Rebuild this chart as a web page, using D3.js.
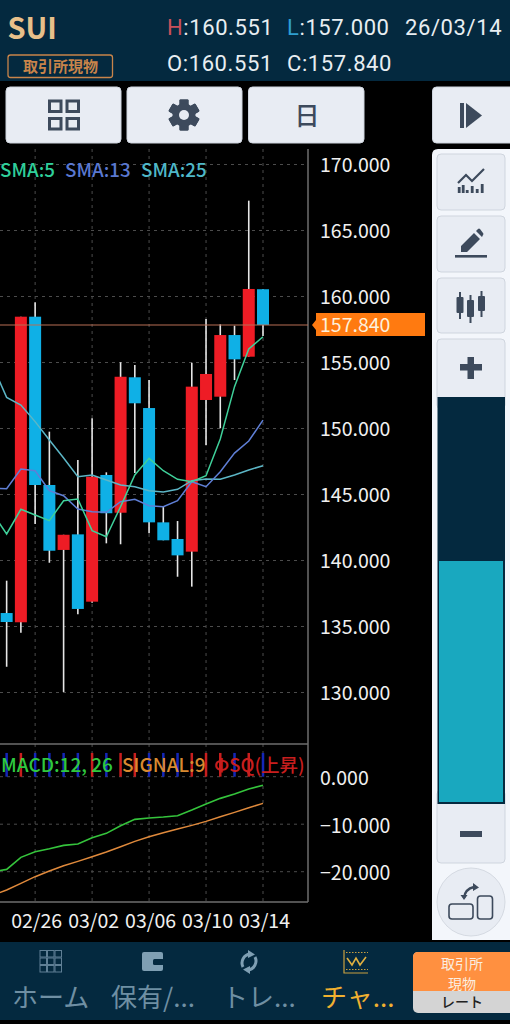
<!DOCTYPE html>
<html>
<head>
<meta charset="utf-8">
<script src="https://cdn.jsdelivr.net/npm/d3@7"></script>
<style>
    html, body { margin: 0; padding: 0; background: #000; overflow: hidden; }
    svg { display: block; }
    text { font-family: "Noto Sans CJK JP", "Noto Sans", sans-serif; }
</style>
</head>
<body>
<div id="chart"></div>
<script>
// first date sits just off the left edge, only the lines use it
const dates = ['02/23', '02/24', '02/25', '02/26', '02/27', '02/28', '03/01', '03/02', '03/03', '03/04',
    '03/05', '03/06', '03/07', '03/08', '03/09', '03/10', '03/11', '03/12', '03/13', '03/14'];
const opens = [null, 136.02, 135.32, 158.47, 145.72, 140.80, 141.98, 136.88, 146.48, 143.62,
    153.88, 151.55, 142.89, 141.63, 140.67, 152.16, 152.41, 157.08, 155.44, 160.551];
const highs = [null, 138.47, 158.47, 159.56, 149.76, 141.95, 147.61, 150.77, 146.68, 155.02,
    154.81, 153.67, 144.08, 142.99, 154.98, 158.30, 157.89, 157.79, 167.26, 160.551];
const lows = [null, 131.95, 134.53, 142.77, 139.83, 130.04, 135.92, 136.80, 141.30, 141.23,
    146.63, 142.06, 141.53, 138.77, 138.02, 148.75, 150.02, 153.67, 155.44, 157.000];
const closes = [null, 135.34, 158.47, 145.72, 140.74, 141.95, 136.33, 146.35, 143.58, 153.92,
    151.91, 142.89, 141.53, 140.39, 153.17, 154.13, 157.08, 155.24, 160.57, 157.840];
const sma5 = [143.60, 142.01, 143.88, 143.45, 143.02, 144.53, 144.66, 142.26, 141.80, 144.08,
    146.48, 147.74, 146.80, 146.15, 145.97, 146.42, 149.20, 153.17, 156.02, 156.95];
const sma13 = [145.49, 145.44, 146.93, 146.80, 145.29, 144.91, 143.90, 143.70, 143.65, 144.45,
    144.64, 144.15, 144.08, 144.53, 145.97, 145.59, 146.73, 148.14, 149.05, 150.64];
const sma25 = [154.80, 152.36, 151.78, 150.52, 149.13, 147.77, 146.35, 146.48, 146.10, 145.72,
    145.59, 145.29, 145.19, 145.39, 146.05, 146.17, 146.15, 146.48, 146.86, 147.18];
const macd = [-20.00, -19.51, -16.98, -15.79, -15.16, -14.46, -14.18, -12.84, -11.93, -10.32,
    -8.98, -8.70, -8.49, -8.21, -7.02, -5.75, -4.56, -3.65, -2.60, -1.82];
const signal = [-24.98, -23.86, -22.46, -21.05, -19.86, -18.74, -17.82, -16.84, -15.86, -14.74,
    -13.61, -12.63, -11.79, -11.02, -10.25, -9.40, -8.42, -7.51, -6.53, -5.61];
const psq = [null, 'd', 'u', 'd', 'd', 'd', 'd', 'u', 'd', 'u',
    'u', 'd', 'd', 'd', 'u', 'u', 'u', 'd', 'u', 'd'];
const psqHeight = 5;
const lastPrice = 157.840;
const priceTicks = [170, 165, 160, 155, 150, 145, 140, 135, 130];
const macdTicks = [0, -10, -20];
const dateTicks = ['02/26', '03/02', '03/06', '03/10', '03/14'];

const W = 510, H = 1024;
const plotRight = 308;
const navy = '#04293f', btn = '#e8ecf3', icon = '#3d4a5c';

const svg = d3.select('#chart').append('svg').attr('width', W).attr('height', H);
svg.append('rect').attr('width', W).attr('height', H).attr('fill', '#000');

const x = d3.scalePoint().domain(dates).range([-7.6, 263]);
const y = d3.scaleLinear().domain([130, 170]).range([692.5, 164.5]);
const yMacd = d3.scaleLinear().domain([-20, 0]).range([871.7, 776.7]);

// grid
const grid = svg.append('g').attr('stroke', '#4c4c4c').attr('stroke-width', 1).attr('stroke-dasharray', '3,4');
grid.selectAll('.gx').data(dateTicks).join('line')
    .attr('x1', d => x(d)).attr('x2', d => x(d)).attr('y1', 149).attr('y2', 902);
grid.selectAll('.gy').data(priceTicks).join('line')
    .attr('x1', 0).attr('x2', plotRight).attr('y1', d => y(d)).attr('y2', d => y(d));
grid.selectAll('.gm').data(macdTicks).join('line')
    .attr('x1', 0).attr('x2', plotRight).attr('y1', d => yMacd(d)).attr('y2', d => yMacd(d));

// frame of the panes
const frame = svg.append('g').attr('stroke', '#6e6e6e').attr('stroke-width', 1.5);
frame.append('line').attr('x1', plotRight).attr('x2', plotRight).attr('y1', 149).attr('y2', 902);
frame.append('line').attr('x1', 0).attr('x2', plotRight).attr('y1', 744).attr('y2', 744);
frame.append('line').attr('x1', 0).attr('x2', plotRight).attr('y1', 902).attr('y2', 902);

// candles
const candles = dates.map((d, i) => ({ d, o: opens[i], h: highs[i], l: lows[i], c: closes[i] }))
    .filter(c => c.o !== null);
const candleG = svg.append('g');
candleG.selectAll('.wick').data(candles).join('line')
    .attr('x1', d => x(d.d)).attr('x2', d => x(d.d))
    .attr('y1', d => y(d.h)).attr('y2', d => y(d.l))
    .attr('stroke', '#e6e6e6').attr('stroke-width', 1.6);
candleG.selectAll('.body').data(candles).join('rect')
    .attr('x', d => x(d.d) - 6).attr('width', 12)
    .attr('y', d => y(Math.max(d.o, d.c)))
    .attr('height', d => Math.abs(y(d.o) - y(d.c)))
    .attr('fill', d => d.c >= d.o ? '#ee1c25' : '#0fb0e6');

// moving averages
const priceLine = d3.line().x((d, i) => x(dates[i])).y(d => y(d));
[[sma25, '#5cb6c6'], [sma13, '#5f7fd6'], [sma5, '#3fd09a']].forEach(([vals, color]) => {
    svg.append('path').attr('d', priceLine(vals)).attr('fill', 'none')
        .attr('stroke', color).attr('stroke-width', 1.5);
});

// last price line and tag
svg.append('line').attr('x1', 0).attr('x2', plotRight).attr('y1', y(lastPrice)).attr('y2', y(lastPrice))
    .attr('stroke', '#b86f55').attr('stroke-width', 1.2);
svg.append('path')
    .attr('d', `M312,${y(lastPrice)} L316,${y(lastPrice) - 5} L316,313 L425,313 L425,336 L316,336 L316,${y(lastPrice) + 5} Z`)
    .attr('fill', '#ff7a10');

// psq bars behind the macd legend
svg.append('g').selectAll('rect').data(dates.map((d, i) => ({ d, s: psq[i] })).filter(p => p.s)).join('rect')
    .attr('x', d => x(d.d) - 1.25).attr('width', 2.5)
    .attr('y', yMacd(psqHeight)).attr('height', yMacd(0) - yMacd(psqHeight))
    .attr('fill', d => d.s === 'u' ? '#c81e1e' : '#1426b8');

// macd lines
const macdLine = d3.line().x((d, i) => x(dates[i])).y(d => yMacd(d));
svg.append('path').attr('d', macdLine(signal)).attr('fill', 'none').attr('stroke', '#e08a3c').attr('stroke-width', 1.5);
svg.append('path').attr('d', macdLine(macd)).attr('fill', 'none').attr('stroke', '#35c43c').attr('stroke-width', 1.6);

// axes
function styleAxis(g) {
    g.select('.domain').remove();
    g.selectAll('text').attr('fill', '#f0f0f0').style('font-size', '19.5px')
        .style('font-family', '"Noto Sans CJK JP", sans-serif');
}
svg.append('g').attr('transform', `translate(${plotRight},1)`)
    .call(d3.axisRight(y).tickValues(priceTicks).tickFormat(d3.format('.3f')).tickSize(0).tickPadding(12))
    .call(styleAxis);
svg.append('g').attr('transform', `translate(${plotRight},2)`)
    .call(d3.axisRight(yMacd).tickValues(macdTicks).tickFormat(d3.format('.3f')).tickSize(0).tickPadding(12))
    .call(styleAxis);
svg.append('g').attr('transform', 'translate(1,908)')
    .call(d3.axisBottom(x).tickValues(dateTicks).tickSize(0).tickPadding(6))
    .call(styleAxis);

function label(str, px, py, size, color, opts = {}) {
    return svg.append('text').attr('x', px).attr('y', py).text(str)
        .attr('fill', color).style('font-size', size + 'px')
        .attr('text-anchor', opts.anchor || 'start')
        .style('font-weight', opts.weight || 400)
        .style('font-family', opts.font || null)
        .style('letter-spacing', opts.spacing || null);
}

label(lastPrice.toFixed(3), 320, 332, 19.5, '#fdf0dc');

// legends
label('SMA:5', 0, 177, 18.8, '#2fcf9a', { weight: 500 });
label('SMA:13', 65, 177, 18.8, '#5a78d0', { weight: 500 });
label('SMA:25', 141, 177, 18.8, '#4fb8c8', { weight: 500 });
label('MACD:12, 26', 1, 772, 19, '#2fc83f', { weight: 500 });
label('SIGNAL:9', 122, 772, 19, '#d98a30', { weight: 500 });
label('ΦSQ(上昇)', 214, 772, 18.5, '#c81e1e', { weight: 500 });

// header
svg.append('rect').attr('width', W).attr('height', 81).attr('fill', navy);
label('SUI', 7.5, 39, 29, '#e8c08a', { weight: 700 });
svg.append('rect').attr('x', 8).attr('y', 55).attr('width', 104.5).attr('height', 22.5).attr('rx', 2.5)
    .attr('fill', 'none').attr('stroke', '#c8844a').attr('stroke-width', 1.3);
label('取引所現物', 60.5, 72, 15, '#c8844a', { anchor: 'middle', weight: 700 });
const hdrText = (parts, px, py) => {
    const t = svg.append('text').attr('x', px).attr('y', py).style('font-family', 'Roboto')
        .style('font-size', '22px').style('letter-spacing', '0.6px');
    parts.forEach(([s, c]) => t.append('tspan').attr('fill', c).text(s));
};
hdrText([['H', '#c8505a'], [':160.551', '#e8eef2']], 167, 35);
hdrText([['L', '#2f9fd0'], [':157.000', '#e8eef2']], 287, 35);
hdrText([['26/03/14', '#e8eef2']], 405, 35);
hdrText([['O:160.551', '#e8eef2']], 167, 71);
hdrText([['C:157.840', '#e8eef2']], 287, 71);

// top buttons
function button(bx, by, bw, bh, fill = btn) {
    svg.append('rect').attr('x', bx).attr('y', by).attr('width', bw).attr('height', bh).attr('rx', 4)
        .attr('fill', fill).attr('stroke', '#cfd5de').attr('stroke-width', 1);
}
button(6, 87, 115, 56);
button(127, 87, 115, 56);
button(248.5, 87, 115.5, 56);
button(432.5, 87, 85, 56);
const top4 = svg.append('g').attr('fill', 'none').attr('stroke', icon).attr('stroke-width', 3);
[[49.5, 101], [67, 101], [49.5, 118.5], [67, 118.5]].forEach(([a, b]) => {
    top4.append('rect').attr('x', a).attr('y', b).attr('width', 11.5).attr('height', 10.5);
});
// gear
const gear = svg.append('g').attr('transform', 'translate(184,115)').attr('fill', icon);
d3.range(6).forEach(i => {
    gear.append('rect').attr('x', -4.5).attr('y', -15.5).attr('width', 9).attr('height', 31).attr('rx', 1)
        .attr('transform', `rotate(${i * 30 * 2})`);
});
gear.append('circle').attr('r', 11.5);
gear.append('circle').attr('r', 5).attr('fill', btn);
label('日', 307, 125, 25, icon, { anchor: 'middle', weight: 500 });
svg.append('rect').attr('x', 460).attr('y', 103).attr('width', 4).attr('height', 25).attr('fill', icon);
svg.append('path').attr('d', 'M466,103 L482,115.5 L466,128 Z').attr('fill', icon);

// right side panel
svg.append('path').attr('d', 'M432,940 L432,155 Q432,149 438,149 L510,149 L510,940 Z').attr('fill', '#f3f6fb');
button(437, 154, 68, 56);
button(437, 216, 68, 56);
button(437, 278, 68, 55);
button(437, 339, 68, 70);
button(437, 790, 68, 73);
svg.append('rect').attr('x', 437.5).attr('y', 397).attr('width', 67.5).attr('height', 407).attr('fill', navy);
// slider fill
svg.append('rect').attr('x', 439).attr('y', 561).attr('width', 64).attr('height', 241).attr('fill', '#19a8bf');

// side icons
const si = svg.append('g');
si.append('path').attr('d', 'M458,183 L466,175 L472,181 L484,169').attr('fill', 'none').attr('stroke', icon).attr('stroke-width', 2.2);
[[459, 187, 6], [463, 185, 8], [467, 190, 3], [472, 186, 7], [477, 189, 4], [482, 184, 9]].forEach(([a, b, h]) => {
    si.append('rect').attr('x', a - 1.2).attr('y', b).attr('width', 2.8).attr('height', h).attr('fill', icon);
});
si.append('rect').attr('x', 455).attr('y', 255).attr('width', 32).attr('height', 2.6).attr('fill', icon);
si.append('path').attr('d', 'M461,252 L461,246 L474,233 L480,239 L467,252 Z M476,231 L478,229 Q479,228 480,229 L483,233 Q484,234 483,235 L482,237 Z').attr('fill', icon);
[[460, 292, 27], [470.5, 295, 28], [481.5, 291, 26]].forEach(([a, b, h]) => {
    si.append('rect').attr('x', a - 1).attr('y', b).attr('width', 2).attr('height', h).attr('fill', icon);
    si.append('rect').attr('x', a - 3.5).attr('y', b + 5).attr('width', 7).attr('height', h - 11).attr('rx', 1).attr('fill', icon);
});
si.append('rect').attr('x', 460).attr('y', 364).attr('width', 22).attr('height', 6.5).attr('fill', icon);
si.append('rect').attr('x', 467.5).attr('y', 357).attr('width', 6.5).attr('height', 22).attr('fill', icon);
si.append('rect').attr('x', 460).attr('y', 831).attr('width', 22).attr('height', 6).attr('fill', icon);
si.append('circle').attr('cx', 471).attr('cy', 902).attr('r', 34).attr('fill', btn).attr('stroke', '#d5dae2').attr('stroke-width', 1);
si.append('rect').attr('x', 449).attr('y', 904).attr('width', 24).attr('height', 15).attr('rx', 3)
    .attr('fill', 'none').attr('stroke', icon).attr('stroke-width', 1.6);
si.append('rect').attr('x', 477.5).attr('y', 896).attr('width', 15).attr('height', 23).attr('rx', 3)
    .attr('fill', 'none').attr('stroke', icon).attr('stroke-width', 1.6);
si.append('path').attr('d', 'M464,898 Q465,889 474,887').attr('fill', 'none').attr('stroke', icon).attr('stroke-width', 2.4);
si.append('path').attr('d', 'M473,883 L479,887.5 L473,891 Z M460.5,895 L467.5,895 L464,900 Z').attr('fill', icon);

// bottom nav
svg.append('rect').attr('y', 942).attr('width', W).attr('height', 78).attr('fill', navy);
const navGrey = '#6f8fa3', navOn = '#f0b030';
const nav = svg.append('g');
d3.range(3).forEach(r => d3.range(3).forEach(c => {
    nav.append('rect').attr('x', 40 + c * 7.5).attr('y', 950.5 + r * 7.5).attr('width', 6.5).attr('height', 6.5)
        .attr('fill', 'none').attr('stroke', '#5f7f95').attr('stroke-width', 1);
}));
nav.append('rect').attr('x', 142).attr('y', 952).attr('width', 21).attr('height', 19).attr('rx', 2).attr('fill', '#7f9fb3');
nav.append('rect').attr('x', 153).attr('y', 959).attr('width', 11).attr('height', 6).attr('rx', 1.5).attr('fill', navy);
// two arrows chasing each other
nav.append('path').attr('d', 'M243,967 A9,9 0 0 1 250,954 M255,957 A9,9 0 0 1 248,970')
    .attr('fill', 'none').attr('stroke', '#7f9fb3').attr('stroke-width', 3);
nav.append('path').attr('d', 'M248,950 L255,954.5 L248,958 Z M250,966 L243,969.5 L250,974 Z').attr('fill', '#7f9fb3');
nav.append('path').attr('d', 'M344,950 L344,973 L368,973').attr('fill', 'none').attr('stroke', '#c8a040').attr('stroke-width', 1.2);
nav.append('path').attr('d', 'M347,958 L352,965 L356,958 L360,965 L366,957').attr('fill', 'none').attr('stroke', '#e0b040').attr('stroke-width', 1.6);
nav.append('line').attr('x1', 346).attr('x2', 368).attr('y1', 969.5).attr('y2', 969.5)
    .attr('stroke', '#c8a040').attr('stroke-dasharray', '1.5,1.5');
nav.append('line').attr('x1', 346).attr('x2', 368).attr('y1', 952.5).attr('y2', 952.5)
    .attr('stroke', '#c8a040').attr('stroke-dasharray', '1.5,1.5');

label('ホーム', 12, 1007, 26, navGrey);
label('保有/...', 111, 1007, 26, navGrey);
label('トレ...', 222, 1007, 26, navGrey);
label('チャ...', 321, 1007, 26, navOn);

svg.append('rect').attr('x', 413).attr('y', 952).attr('width', 110).attr('height', 61).attr('rx', 5).attr('fill', '#d4d4d4');
svg.append('path').attr('d', 'M413,991 L413,957 Q413,952 418,952 L510,952 L510,991 Z').attr('fill', '#ff9040');
label('取引所', 462, 968.5, 14, '#fbeee0', { anchor: 'middle' });
label('現物', 462, 988.5, 14, '#fbeee0', { anchor: 'middle' });
label('レート', 462, 1007, 14, '#222', { anchor: 'middle', weight: 500 });
</script>
</body>
</html>
